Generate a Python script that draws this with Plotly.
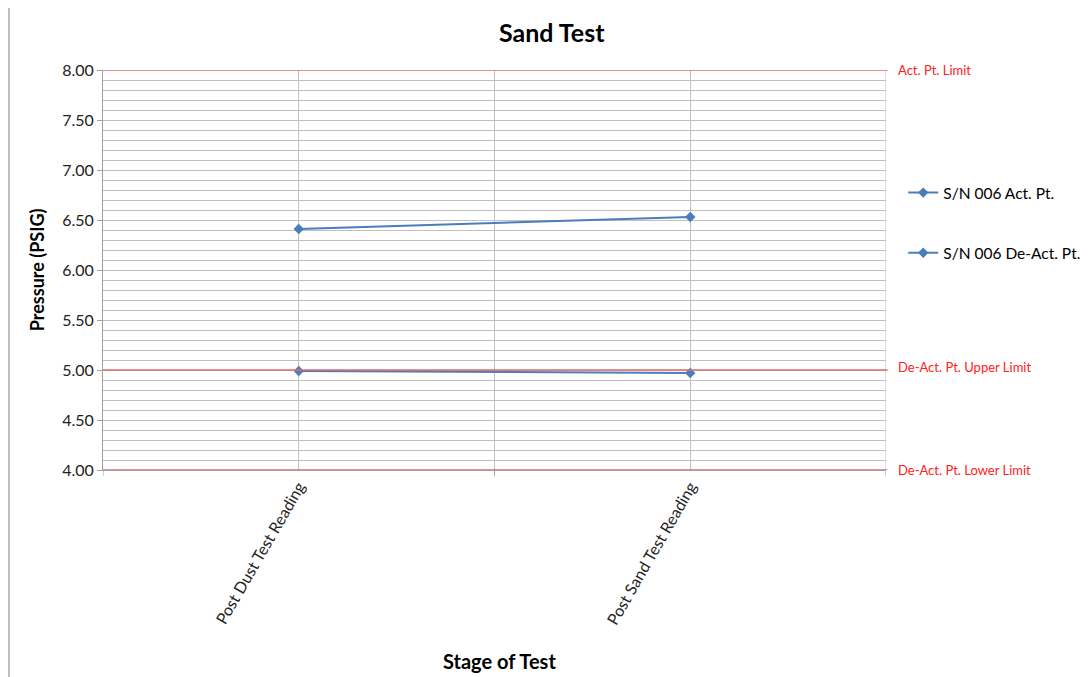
import plotly.graph_objects as go

# ---- data ----
categories = ["Post Dust Test Reading", "Post Sand Test Reading"]
act_pt = [6.41, 6.53]
deact_pt = [4.99, 4.97]
series_names = ["S/N 006 Act. Pt.", "S/N 006 De-Act. Pt."]
limit_names = ["Act. Pt. Limit", "De-Act. Pt. Upper Limit", "De-Act. Pt. Lower Limit"]
limit_values = [8.00, 5.00, 4.00]
y_ticks = [4.0, 4.5, 5.0, 5.5, 6.0, 6.5, 7.0, 7.5, 8.0]

FONT = "Lato"
BLUE = "#4a7ebb"
RED_LINE = "#e06a6a"
RED_TEXT = "#ff2020"
GRID = "#c0c0c0"

fig = go.Figure()

for i, (name, vals) in enumerate(zip(series_names, [act_pt, deact_pt])):
    fig.add_trace(go.Scatter(
        x=categories, y=vals, name=name, mode="lines+markers",
        line=dict(color=BLUE, width=2),
        marker=dict(symbol="diamond", size=8, color=BLUE),
        legendgroup=f"g{i}",
    ))

shapes = []
# limit lines
for v in limit_values:
    shapes.append(dict(type="line", xref="paper", yref="y", x0=0, x1=1.002, y0=v, y1=v,
                       line=dict(color=RED_LINE, width=1.5), layer="above"))
# category boundary gridlines and ticks
n = len(categories)
for b in [k - 0.5 for k in range(n + 1)]:
    if b > -0.5:
        shapes.append(dict(type="line", xref="x", yref="paper", x0=b, x1=b, y0=0, y1=1,
                           line=dict(color=GRID, width=1), layer="below"))
    shapes.append(dict(type="line", xref="x", yref="paper", x0=b, x1=b, y0=0, y1=-0.015,
                       line=dict(color="#a0a0a0", width=1)))
# chart-area border (left edge)
shapes.append(dict(type="line", xref="paper", yref="paper", x0=-0.12, x1=-0.12, y0=1.2, y1=-0.7,
                   line=dict(color="#bdbdbd", width=2)))

annotations = []
for name, v in zip(limit_names, limit_values):
    annotations.append(dict(text=name, xref="paper", yref="y", x=1.0125, y=v,
                            xanchor="left", yanchor="middle", showarrow=False,
                            yshift=3 if v == 5.0 else 0,
                            font=dict(family=FONT, size=13, color=RED_TEXT)))
annotations.append(dict(text="<b>Sand Test</b>", xref="paper", yref="paper", x=0.5734, y=1.095,
                        xanchor="center", yanchor="middle", showarrow=False,
                        font=dict(family=FONT, size=25, color="#000000")))
annotations.append(dict(text="<b>Pressure (PSIG)</b>", xref="paper", yref="paper", x=-0.084, y=0.5,
                        xanchor="center", yanchor="middle", showarrow=False, textangle=-90,
                        font=dict(family=FONT, size=18, color="#000000")))
annotations.append(dict(text="<b>Stage of Test</b>", xref="paper", yref="paper", x=0.506, y=-0.4775,
                        xanchor="center", yanchor="middle", showarrow=False,
                        font=dict(family=FONT, size=20, color="#000000")))

fig.update_layout(
    width=1090, height=677,
    margin=dict(l=95, r=212, t=62, b=215),
    paper_bgcolor="white", plot_bgcolor="white",
    font=dict(family=FONT, color="#222222"),
    showlegend=True,
    legend=dict(x=1.022, y=0.735, xanchor="left", yanchor="top",
                font=dict(family=FONT, size=15.5, color="#000000"),
                tracegroupgap=37, bgcolor="rgba(0,0,0,0)"),
    shapes=shapes,
    annotations=annotations,
    xaxis=dict(type="category", range=[-0.5, n - 0.5], showgrid=True, gridcolor=GRID, gridwidth=1,
               showline=True, linecolor="#a0a0a0", ticks="", tickangle=-60,
               tickfont=dict(family=FONT, size=16, color="#222222"), zeroline=False),
    yaxis=dict(range=[4, 8], tickvals=y_ticks, tickformat=".2f",
               showgrid=True, gridcolor=GRID, gridwidth=1,
               minor=dict(dtick=0.1, showgrid=True, gridcolor=GRID, gridwidth=1),
               showline=True, linecolor="#a0a0a0", ticks="outside", ticklen=5, tickcolor="#a0a0a0",
               tickfont=dict(family=FONT, size=16, color="#222222"), zeroline=False),
)

fig.write_html("out.html", config={"displayModeBar": False})
